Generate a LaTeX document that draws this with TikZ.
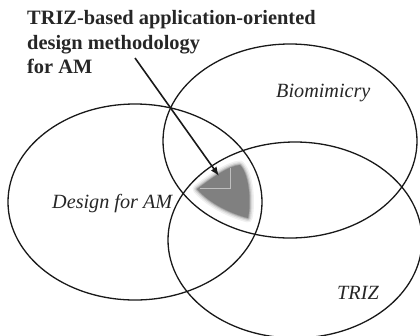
\documentclass[tikz,border=0pt]{standalone}
\usepackage{fontspec}
\setmainfont{Liberation Serif}
\usetikzlibrary{arrows.meta}
\begin{document}
\begin{tikzpicture}[x=1pt,y=-1pt,
  venn/.style={draw=black!90,line width=1.3pt},
  titletext/.style={anchor=base west,inner sep=0pt,font=\fontsize{20.4}{24}\selectfont\bfseries,text=black!85},
  settext/.style={anchor=base west,inner sep=0pt,font=\fontsize{20.2}{23}\selectfont\itshape,text=black!85},
  pointer/.style={draw=black!90,line width=1.6pt,-{Latex[length=9pt,width=7pt]}}]
\useasboundingbox (0,0) rectangle (420,335);
% shaded overlap region (soft edges)
\def\blob{(197,189) .. controls (212,178) and (228,166) .. (240,165) .. controls (250,175) and (251,205) .. (248,218) .. controls (232,214) and (210,204) .. (197,189) -- cycle}
\foreach \w/\o in {9/0.12,6/0.18,3.5/0.3,1.5/0.5}{
  \draw[line width=\w pt,line join=round,draw=black!50,opacity=\o] \blob;
}
\fill[black!50] \blob;
\draw[black!25,line width=0.5pt] (200,188) -- (230,188) -- (230,168);
% ellipses
\draw[venn] (135,202) ellipse [x radius=127,y radius=98];
\draw[venn] (290,141) ellipse [x radius=127,y radius=97];
\draw[venn] (295,240) ellipse [x radius=127,y radius=98];
% labels
\node[titletext] (t1) at (27,24) {TRIZ-based application-oriented};
\node[titletext] (t2) at (27,49) {design methodology};
\node[titletext] (t3) at (27,73) {for AM};
\node[settext] (bio) at (276,97) {Biomimicry};
\node[settext] (dfam) at (52,208) {Design for AM};
\node[settext] (triz) at (337,299) {TRIZ};
% pointer
\coordinate (ps) at (135,58);
\coordinate (pe) at (219,176);
\draw[pointer] (ps) -- (pe);
\end{tikzpicture}
\end{document}
